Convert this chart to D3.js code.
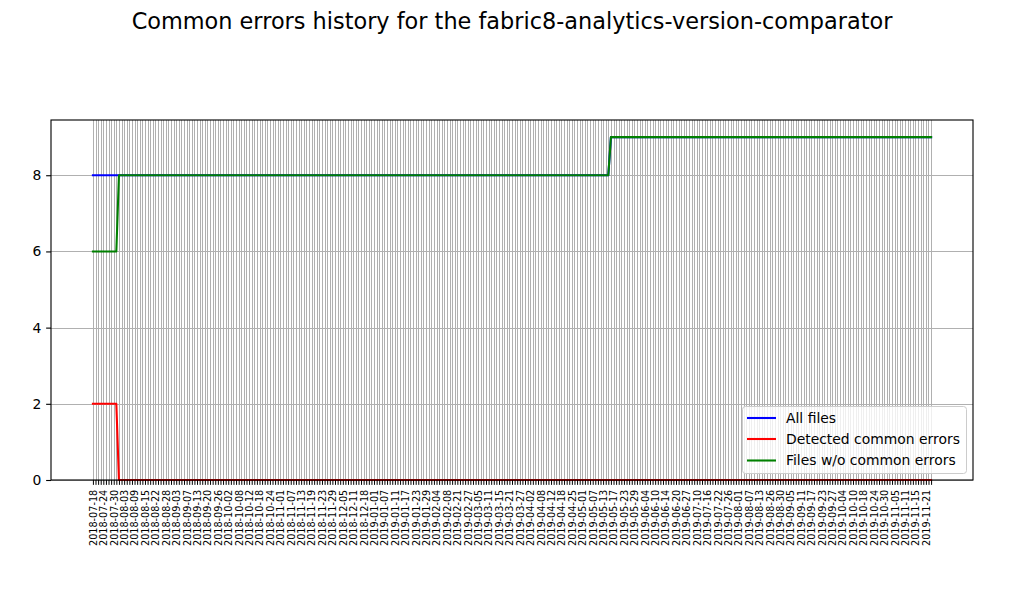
<!DOCTYPE html>
<html>
<head>
<meta charset="utf-8">
<script src="https://cdn.jsdelivr.net/npm/d3@7"></script>
<style>
  html, body { margin: 0; padding: 0; background: #ffffff; }
  svg { display: block; font-family: "DejaVu Sans", sans-serif; }
</style>
</head>
<body>
<svg id="chart" width="1024" height="600"></svg>
<script>
// ---------- DATA ----------
const chartTitle = "Common errors history for the fabric8-analytics-version-comparator";

const seriesNames = ["All files", "Detected common errors", "Files w/o common errors"];
const seriesColors = ["#0000ff", "#ff0000", "#008000"];

// one category per run date (grouped four per labelled tick)
const categories = [
"2018-07-18","2018-07-19","2018-07-20","2018-07-23",
"2018-07-24","2018-07-25","2018-07-26","2018-07-27",
"2018-07-30","2018-07-31","2018-08-01","2018-08-02",
"2018-08-03","2018-08-06","2018-08-07","2018-08-08",
"2018-08-09","2018-08-10","2018-08-13","2018-08-14",
"2018-08-15","2018-08-16","2018-08-17","2018-08-20",
"2018-08-22","2018-08-23","2018-08-24","2018-08-27",
"2018-08-28","2018-08-29","2018-08-30","2018-08-31",
"2018-09-03","2018-09-04","2018-09-05","2018-09-06",
"2018-09-07","2018-09-10","2018-09-11","2018-09-12",
"2018-09-13","2018-09-14","2018-09-17","2018-09-18",
"2018-09-20","2018-09-21","2018-09-24","2018-09-25",
"2018-09-26","2018-09-27","2018-09-28","2018-10-01",
"2018-10-02","2018-10-03","2018-10-04","2018-10-05",
"2018-10-08","2018-10-09","2018-10-10","2018-10-11",
"2018-10-12","2018-10-15","2018-10-16","2018-10-17",
"2018-10-18","2018-10-19","2018-10-22","2018-10-23",
"2018-10-24","2018-10-25","2018-10-26","2018-10-30",
"2018-11-01","2018-11-02","2018-11-05","2018-11-06",
"2018-11-07","2018-11-08","2018-11-09","2018-11-12",
"2018-11-13","2018-11-14","2018-11-15","2018-11-16",
"2018-11-19","2018-11-20","2018-11-21","2018-11-22",
"2018-11-23","2018-11-26","2018-11-27","2018-11-28",
"2018-11-29","2018-11-30","2018-12-03","2018-12-04",
"2018-12-05","2018-12-06","2018-12-07","2018-12-10",
"2018-12-11","2018-12-12","2018-12-13","2018-12-17",
"2018-12-18","2018-12-19","2018-12-20","2018-12-21",
"2019-01-01","2019-01-02","2019-01-03","2019-01-04",
"2019-01-07","2019-01-08","2019-01-09","2019-01-10",
"2019-01-11","2019-01-14","2019-01-15","2019-01-16",
"2019-01-17","2019-01-18","2019-01-21","2019-01-22",
"2019-01-23","2019-01-24","2019-01-25","2019-01-28",
"2019-01-29","2019-01-30","2019-01-31","2019-02-01",
"2019-02-04","2019-02-05","2019-02-06","2019-02-07",
"2019-02-08","2019-02-18","2019-02-19","2019-02-20",
"2019-02-21","2019-02-22","2019-02-25","2019-02-26",
"2019-02-27","2019-02-28","2019-03-01","2019-03-04",
"2019-03-05","2019-03-06","2019-03-07","2019-03-08",
"2019-03-11","2019-03-12","2019-03-13","2019-03-14",
"2019-03-15","2019-03-18","2019-03-19","2019-03-20",
"2019-03-21","2019-03-22","2019-03-25","2019-03-26",
"2019-03-27","2019-03-28","2019-03-29","2019-04-01",
"2019-04-02","2019-04-03","2019-04-04","2019-04-05",
"2019-04-08","2019-04-09","2019-04-10","2019-04-11",
"2019-04-12","2019-04-15","2019-04-16","2019-04-17",
"2019-04-18","2019-04-19","2019-04-23","2019-04-24",
"2019-04-25","2019-04-26","2019-04-29","2019-04-30",
"2019-05-01","2019-05-02","2019-05-03","2019-05-06",
"2019-05-07","2019-05-08","2019-05-09","2019-05-10",
"2019-05-13","2019-05-14","2019-05-15","2019-05-16",
"2019-05-17","2019-05-20","2019-05-21","2019-05-22",
"2019-05-23","2019-05-24","2019-05-27","2019-05-28",
"2019-05-29","2019-05-30","2019-05-31","2019-06-03",
"2019-06-04","2019-06-05","2019-06-06","2019-06-07",
"2019-06-10","2019-06-11","2019-06-12","2019-06-13",
"2019-06-14","2019-06-17","2019-06-18","2019-06-19",
"2019-06-20","2019-06-21","2019-06-24","2019-06-25",
"2019-06-27","2019-06-28","2019-07-08","2019-07-09",
"2019-07-10","2019-07-11","2019-07-12","2019-07-15",
"2019-07-16","2019-07-17","2019-07-18","2019-07-19",
"2019-07-22","2019-07-23","2019-07-24","2019-07-25",
"2019-07-26","2019-07-29","2019-07-30","2019-07-31",
"2019-08-01","2019-08-02","2019-08-05","2019-08-06",
"2019-08-07","2019-08-08","2019-08-09","2019-08-12",
"2019-08-13","2019-08-14","2019-08-22","2019-08-23",
"2019-08-26","2019-08-27","2019-08-28","2019-08-29",
"2019-08-30","2019-09-02","2019-09-03","2019-09-04",
"2019-09-05","2019-09-06","2019-09-09","2019-09-10",
"2019-09-11","2019-09-12","2019-09-13","2019-09-16",
"2019-09-17","2019-09-18","2019-09-19","2019-09-20",
"2019-09-23","2019-09-24","2019-09-25","2019-09-26",
"2019-09-27","2019-09-30","2019-10-01","2019-10-02",
"2019-10-04","2019-10-07","2019-10-08","2019-10-09",
"2019-10-10","2019-10-11","2019-10-15","2019-10-16",
"2019-10-18","2019-10-21","2019-10-22","2019-10-23",
"2019-10-24","2019-10-25","2019-10-28","2019-10-29",
"2019-10-30","2019-10-31","2019-11-01","2019-11-04",
"2019-11-05","2019-11-06","2019-11-07","2019-11-08",
"2019-11-11","2019-11-12","2019-11-13","2019-11-14",
"2019-11-15","2019-11-18","2019-11-19","2019-11-20",
"2019-11-21","2019-11-22","2019-11-25"
];

const tickLabels = [
"2018-07-18","2018-07-24","2018-07-30","2018-08-03","2018-08-09","2018-08-15","2018-08-22","2018-08-28",
"2018-09-03","2018-09-07","2018-09-13","2018-09-20","2018-09-26","2018-10-02","2018-10-08","2018-10-12",
"2018-10-18","2018-10-24","2018-11-01","2018-11-07","2018-11-13","2018-11-19","2018-11-23","2018-11-29",
"2018-12-05","2018-12-11","2018-12-18",
"2019-01-01","2019-01-07","2019-01-11","2019-01-17","2019-01-23","2019-01-29","2019-02-04","2019-02-08",
"2019-02-21","2019-02-27","2019-03-05","2019-03-11","2019-03-15","2019-03-21","2019-03-27","2019-04-02",
"2019-04-08","2019-04-12","2019-04-18","2019-04-25","2019-05-01","2019-05-07","2019-05-13","2019-05-17",
"2019-05-23","2019-05-29","2019-06-04","2019-06-10","2019-06-14","2019-06-20","2019-06-27","2019-07-10",
"2019-07-16","2019-07-22","2019-07-26","2019-08-01","2019-08-07","2019-08-13","2019-08-26","2019-08-30",
"2019-09-05","2019-09-11","2019-09-17","2019-09-23","2019-09-27","2019-10-04","2019-10-10","2019-10-18",
"2019-10-24","2019-10-30","2019-11-05","2019-11-11","2019-11-15","2019-11-21"
];

// values, one digit per category (groups of four match the rows of categories above)
const allFilesValues = [
"8888 8888 8888 8888 8888 8888 8888 8888 8888 8888",
"8888 8888 8888 8888 8888 8888 8888 8888 8888 8888",
"8888 8888 8888 8888 8888 8888 8888 8888 8888 8888",
"8888 8888 8888 8888 8888 8888 8888 8888 8888 8888",
"8888 8888 8888 8888 8888 8888 8888 8888 8888 8889",
"9999 9999 9999 9999 9999 9999 9999 9999 9999 9999",
"9999 9999 9999 9999 9999 9999 9999 9999 9999 9999",
"9999 9999 9999 9999 9999 9999 9999 9999 9999 9999",
"999"
];
const detectedValues = [
"2222 2222 2200 0000 0000 0000 0000 0000 0000 0000",
"0000 0000 0000 0000 0000 0000 0000 0000 0000 0000",
"0000 0000 0000 0000 0000 0000 0000 0000 0000 0000",
"0000 0000 0000 0000 0000 0000 0000 0000 0000 0000",
"0000 0000 0000 0000 0000 0000 0000 0000 0000 0000",
"0000 0000 0000 0000 0000 0000 0000 0000 0000 0000",
"0000 0000 0000 0000 0000 0000 0000 0000 0000 0000",
"0000 0000 0000 0000 0000 0000 0000 0000 0000 0000",
"000"
];
const withoutErrorsValues = [
"6666 6666 6688 8888 8888 8888 8888 8888 8888 8888",
"8888 8888 8888 8888 8888 8888 8888 8888 8888 8888",
"8888 8888 8888 8888 8888 8888 8888 8888 8888 8888",
"8888 8888 8888 8888 8888 8888 8888 8888 8888 8888",
"8888 8888 8888 8888 8888 8888 8888 8888 8888 8889",
"9999 9999 9999 9999 9999 9999 9999 9999 9999 9999",
"9999 9999 9999 9999 9999 9999 9999 9999 9999 9999",
"9999 9999 9999 9999 9999 9999 9999 9999 9999 9999",
"999"
];

const yTicks = [0, 2, 4, 6, 8];
const yMax = 9.45;

// ---------- BUILD ----------
function parseDigits(rows) {
  return rows.join("").replace(/\s/g, "").split("").map(Number);
}
const seriesValues = [parseDigits(allFilesValues), parseDigits(detectedValues), parseDigits(withoutErrorsValues)];
seriesValues.forEach((s, k) => {
  if (s.length !== categories.length) throw new Error("series " + k + " length " + s.length + " vs " + categories.length);
});
const tickSet = new Set(tickLabels);
tickLabels.forEach(t => { if (!categories.includes(t)) throw new Error("missing tick " + t); });

const svg = d3.select("#chart");
const plot = { left: 51, right: 973, top: 120, bottom: 480 };
const ptToPx = 100 / 72;

const x = d3.scalePoint()
  .domain(categories)
  .range([plot.left, plot.right])
  .padding(0.05 * (categories.length - 1));
const y = d3.scaleLinear().domain([0, yMax]).range([plot.bottom, plot.top]);

const gridColor = "#b0b0b0";
const snap = v => Math.round(v) + 0.5;

// title
svg.append("text")
  .attr("x", 512).attr("y", 29)
  .attr("text-anchor", "middle")
  .attr("font-size", 22.4)
  .attr("fill", "#000")
  .text(chartTitle);

// grid (snapped to pixels like the original renderer)
const grid = svg.append("g").attr("class", "grid").attr("shape-rendering", "crispEdges");
grid.selectAll("line.vg").data(categories).enter().append("line")
  .attr("class", "vg")
  .attr("x1", d => snap(x(d))).attr("x2", d => snap(x(d)))
  .attr("y1", plot.top).attr("y2", plot.bottom)
  .attr("stroke", gridColor).attr("stroke-width", 1);
grid.selectAll("line.hg").data(yTicks).enter().append("line")
  .attr("class", "hg")
  .attr("x1", plot.left).attr("x2", plot.right)
  .attr("y1", d => snap(y(d))).attr("y2", d => snap(y(d)))
  .attr("stroke", gridColor).attr("stroke-width", 1);

// lines
const line = d3.line()
  .x((v, i) => x(categories[i]))
  .y(v => y(v));
const lineW = 1.5 * ptToPx;
seriesValues.forEach((vals, k) => {
  svg.append("path")
    .datum(vals)
    .attr("d", line)
    .attr("fill", "none")
    .attr("stroke", seriesColors[k])
    .attr("stroke-width", lineW)
    .attr("stroke-linejoin", "round")
    .attr("stroke-linecap", "square");
});

// axes
const tickLen = 3.5 * ptToPx;
const xAxis = d3.axisBottom(x)
  .tickValues(categories)
  .tickSize(tickLen)
  .tickFormat(d => tickSet.has(d) ? d : "");
const gx = svg.append("g").attr("transform", `translate(0,${plot.bottom})`).call(xAxis);
gx.select(".domain").remove();
gx.selectAll(".tick line").attr("stroke", "#000").attr("stroke-width", 1);
gx.selectAll(".tick text")
  .attr("x", 0).attr("y", 0).attr("dy", "0.35em")
  .attr("transform", `translate(0,${tickLen + 3.5 * ptToPx}) rotate(-90)`)
  .attr("text-anchor", "end")
  .attr("font-family", "DejaVu Sans")
  .attr("font-size", 9.7)
  .attr("fill", "#000");

const yAxis = d3.axisLeft(y).tickValues(yTicks).tickSize(tickLen).tickPadding(3.5 * ptToPx).tickFormat(d3.format("d"));
const gy = svg.append("g").attr("transform", `translate(${plot.left},0)`).call(yAxis);
gy.select(".domain").remove();
gy.selectAll(".tick line").attr("stroke", "#000").attr("stroke-width", 0.8 * ptToPx);
gy.selectAll(".tick text")
  .attr("font-family", "DejaVu Sans")
  .attr("font-size", 13.9)
  .attr("fill", "#000");

// spines
svg.append("rect")
  .attr("x", plot.left).attr("y", plot.top)
  .attr("width", plot.right - plot.left).attr("height", plot.bottom - plot.top)
  .attr("fill", "none").attr("stroke", "#000").attr("stroke-width", 0.8 * ptToPx);

// legend
const leg = svg.append("g").attr("class", "legend");
leg.append("rect")
  .attr("x", 742.5).attr("y", 406.5).attr("width", 224).attr("height", 67)
  .attr("rx", 3).attr("ry", 3)
  .attr("fill", "#ffffff").attr("fill-opacity", 0.8)
  .attr("stroke", "#cccccc").attr("stroke-width", 1);
const rowY = [418, 439, 460.5];
seriesNames.forEach((name, k) => {
  leg.append("line")
    .attr("x1", 747).attr("x2", 776)
    .attr("y1", rowY[k]).attr("y2", rowY[k])
    .attr("stroke", seriesColors[k]).attr("stroke-width", lineW);
  leg.append("text")
    .attr("x", 786).attr("y", rowY[k]).attr("dy", "0.35em")
    .attr("font-family", "DejaVu Sans")
    .attr("font-size", 13.9)
    .attr("fill", "#000")
    .text(name);
});
</script>
</body>
</html>
